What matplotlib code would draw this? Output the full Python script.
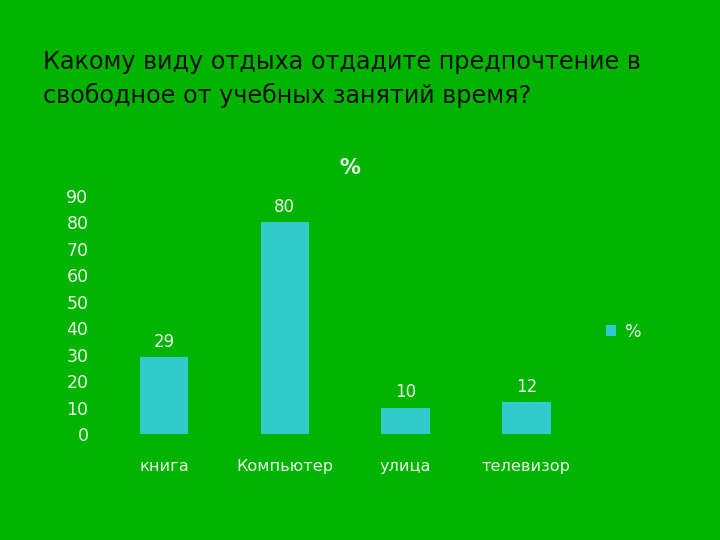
import matplotlib
matplotlib.use("Agg")
import matplotlib.pyplot as plt

categories = ["книга", "Компьютер", "улица", "телевизор"]
values = [29, 80, 10, 12]
yticks = [0, 10, 20, 30, 40, 50, 60, 70, 80, 90]
series_name = "%"

bg = "#00B400"
bar_color = "#33CCCC"
txt = "#EAF5EA"

plt.rcParams['font.family'] = ['DejaVu Sans']
fig = plt.figure(figsize=(7.2, 5.4), dpi=100, facecolor=bg)
ax = fig.add_axes([0.144, 0.196, 0.671, 0.441], facecolor=bg)

x = list(range(len(categories)))
bars = ax.bar(x, values, width=0.4, color=bar_color, label=series_name, zorder=2)
for xi, v in zip(x, values):
    ax.text(xi, v + 2.5, str(v), ha="center", va="bottom", color=txt, fontsize=12)

ax.set_xlim(-0.5, len(categories) - 0.5)
ax.set_ylim(0, 90)
ax.set_yticks(yticks)
ax.set_yticklabels([str(t) for t in yticks], color=txt, fontsize=12.5)
ax.set_xticks(x)
ax.set_xticklabels(categories, color=txt, fontsize=11.6)
ax.tick_params(axis="both", length=0)
ax.tick_params(axis="y", pad=11)
ax.tick_params(axis="x", pad=18)
for s in ax.spines.values():
    s.set_visible(False)

fig.text(350 / 720, 1 - 168 / 540, series_name, ha="center", va="center",
         color=txt, fontsize=15, fontweight="bold")

leg = fig.legend(loc="center left", bbox_to_anchor=(590 / 720, 1 - 332 / 540),
                 frameon=False, fontsize=12.5, handlelength=0.6, handleheight=0.6,
                 handletextpad=0.5)
for t in leg.get_texts():
    t.set_color(txt)

fig.text(43 / 720, 1 - 62 / 540, "Какому виду отдыха отдадите предпочтение в",
         ha="left", va="center", color="#111111", fontsize=17.2)
fig.text(43 / 720, 1 - 95 / 540, "свободное от учебных занятий время?",
         ha="left", va="center", color="#111111", fontsize=17.2)

fig.savefig("out.png", dpi=100, facecolor=bg)
